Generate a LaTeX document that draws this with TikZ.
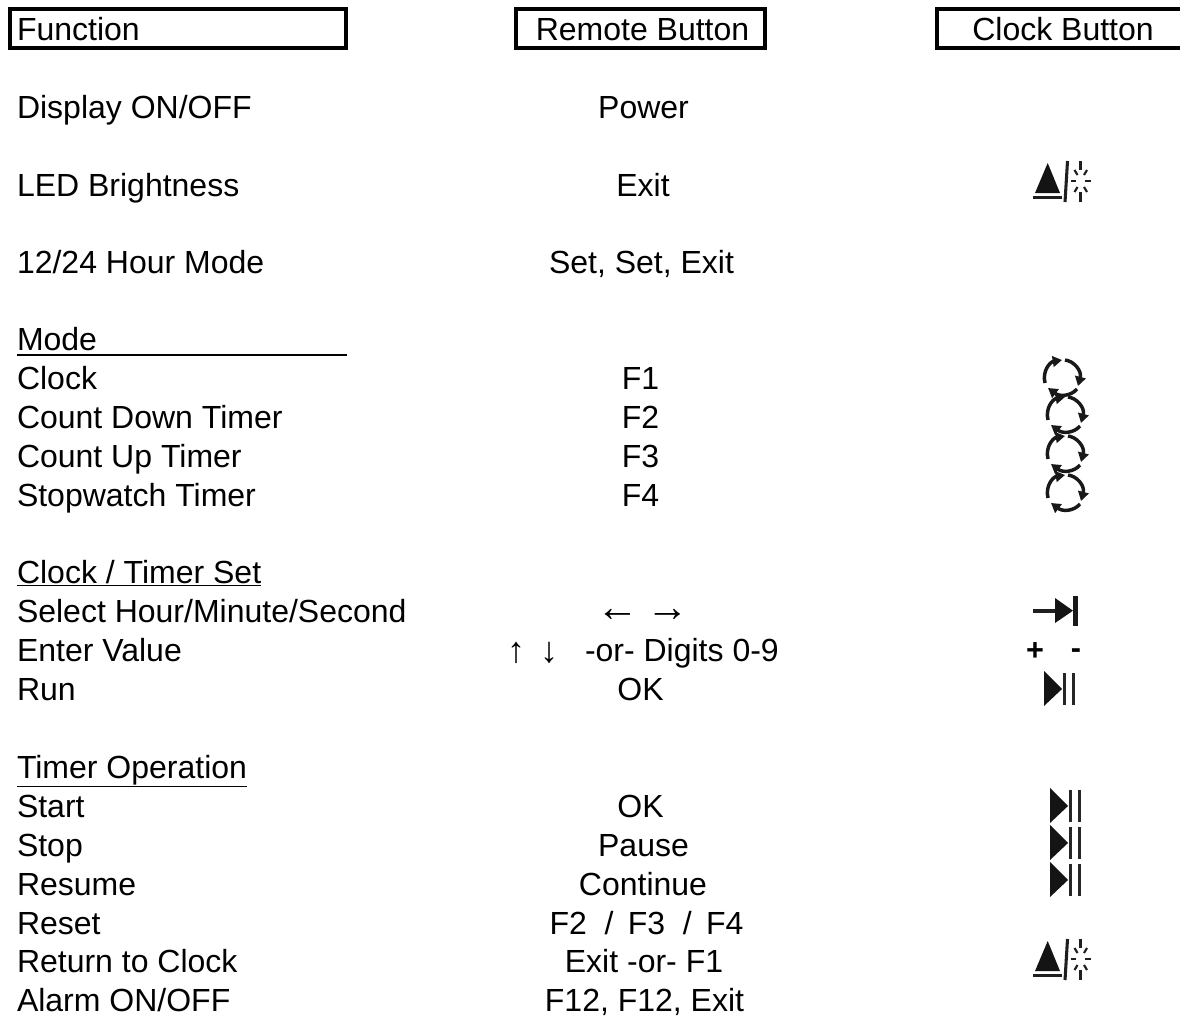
\documentclass[tikz,border=0pt]{standalone}
\usepackage{fontspec}
\setmainfont{Liberation Sans}
\usetikzlibrary{arrows.meta}
\tikzset{
  x=0.75pt,y=-0.75pt,
  txt/.style={inner sep=0pt,outer sep=0pt,font=\fontsize{24pt}{27pt}\selectfont,text=black},
  lab/.style={txt,anchor=base west},
  ctr/.style={txt,anchor=base},
  arrowh/.style={inner sep=0pt,outer sep=0pt,anchor=center,font=\fontsize{32pt}{34pt}\selectfont,text=black},
  arrowv/.style={inner sep=0pt,outer sep=0pt,anchor=center,font=\fontsize{27pt}{30pt}\selectfont,text=black},
  frameln/.style={line width=2.3pt,black,line cap=rect},
  ray/.style={line width=1.6pt,black!88},
  cyc/.style={line width=2.6pt,black!90,-{Triangle[length=7pt,width=8pt]}},
  barln/.style={line width=2.2pt,black!85},
  sym/.style={inner sep=0pt,outer sep=0pt,font=\fontsize{23pt}{25pt}\selectfont\bfseries,anchor=center}
}
\newcommand{\briteicon}[1]{%
  \begin{scope}[shift={(0,#1)}]
    \fill[black!92] (1047.7,-22) -- (1060,8) -- (1035,8) -- cycle;
    \draw[line width=2.3pt,black!88] (1033,12.5) -- (1062,12.5);
    \draw[line width=2.3pt,black!88] (1067.5,-24) -- (1065,17);
    \draw[ray] (1080.5,-24) -- (1080.5,-15);
    \draw[ray] (1080.5,7) -- (1080.5,17);
    \draw[ray] (1071,-4) -- (1076,-4);
    \draw[ray] (1085,-4) -- (1091,-4);
    \draw[ray] (1074.5,-15) -- (1077.5,-10);
    \draw[ray] (1087,-15) -- (1084,-10);
    \draw[ray] (1074.5,7) -- (1077.5,2);
    \draw[ray] (1087,7) -- (1084,2);
  \end{scope}}
\newcommand{\cycleicon}[2]{%
  \begin{scope}[shift={(#1,#2)}]
    \draw[cyc] (-17,6) .. controls (-20,-6) and (-12,-15) .. (0,-17);
    \draw[cyc] (3,-17) .. controls (12,-16) and (20,-6) .. (16,9);
    \draw[cyc] (15,12) .. controls (9,19) and (-2,20) .. (-14,11);
  \end{scope}}
\newcommand{\playicon}[2]{%
  \begin{scope}[shift={(#1,#2)}]
    \fill[black!92] (0,-18) -- (18,0) -- (0,17) -- cycle;
    \draw[barln] (20.5,-16) -- (20.5,16);
    \draw[barln] (29.5,-16) -- (29.5,16);
  \end{scope}}
\begin{document}
\begin{tikzpicture}
\useasboundingbox (0,0) rectangle (1180,1017);
\fill[white] (0,0) rectangle (1180,1017);
% header boxes
\draw[frameln] (10,9) rectangle (346,48);
\draw[frameln] (516,9) rectangle (765,48);
\draw[frameln] (1183,9) -- (937,9) -- (937,48) -- (1183,48);
\node[lab] (fn) at (17,40) {Function};
\node[ctr] (rb) at (642.5,40) {Remote Button};
\node[ctr] (cb) at (1063,40) {Clock Button};
% function column
\node[lab] (f1) at (17,118) {Display ON/OFF};
\node[lab] (f2) at (17,196) {LED Brightness};
\node[lab] (f3) at (17,273) {12/24 Hour Mode};
\node[lab] (f4) at (17,350) {Mode};
\draw[line width=1.8pt,black] (17,355) -- (347,355);
\node[lab] (f5) at (17,389) {Clock};
\node[lab] (f6) at (17,428) {Count Down Timer};
\node[lab] (f7) at (17,467) {Count Up Timer};
\node[lab] (f8) at (17,506) {Stopwatch Timer};
\node[lab] (f9) at (17,583) {\underline{Clock / Timer Set}};
\node[lab] (f10) at (17,622) {Select Hour/Minute/Second};
\node[lab] (f11) at (17,661) {Enter Value};
\node[lab] (f12) at (17,700) {Run};
\node[lab] (f13) at (17,778) {\underline{Timer Operation}};
\node[lab] (f14) at (17,817) {Start};
\node[lab] (f15) at (17,856) {Stop};
\node[lab] (f16) at (17,895) {Resume};
\node[lab] (f17) at (17,934) {Reset};
\node[lab] (f18) at (17,972) {Return to Clock};
\node[lab] (f19) at (17,1011) {Alarm ON/OFF};
% remote column
\node[ctr] (r1) at (643.5,118) {Power};
\node[ctr] (r2) at (643,196) {Exit};
\node[ctr] (r3) at (641.5,273) {Set, Set, Exit};
\node[ctr] (r5) at (640.5,389) {F1};
\node[ctr] (r6) at (640.5,428) {F2};
\node[ctr] (r7) at (640.5,467) {F3};
\node[ctr] (r8) at (640.5,506) {F4};
\node[arrowh] (r10a) at (618,615) {←};
\node[arrowh] (r10b) at (668,615) {→};
\node[arrowv] (r11a) at (516,652.5) {↑};
\node[arrowv] (r11b) at (549,652.5) {↓};
\node[lab] (r11) at (585,661) {-or- Digits 0-9};
\node[ctr] (r12) at (640.5,700) {OK};
\node[ctr] (r14) at (640.5,817) {OK};
\node[ctr] (r15) at (643.5,856) {Pause};
\node[ctr] (r16) at (643,895) {Continue};
\node[ctr] (r17) at (646.5,934) {F2 \ /\ \,F3 \ /\ \,F4};
\node[ctr] (r18) at (644,972) {Exit -or- F1};
\node[ctr] (r19) at (644.5,1011) {F12, F12, Exit};
% clock button icons
\briteicon{185}
\briteicon{963}
\cycleicon{1062}{377}
\cycleicon{1065}{414}
\cycleicon{1065}{453}
\cycleicon{1065}{492}
% tab
\draw[line width=3pt,black!88] (1033,610.7) -- (1058,610.7);
\fill[black!92] (1055,598) -- (1073,610.7) -- (1055,623) -- cycle;
\draw[line width=3.4pt,black!90] (1075.5,596) -- (1075.5,626);
\node[sym] (plus) at (1035,651) {+};
\node[sym] (minus) at (1076,654) {-};
\playicon{1044}{689}
\playicon{1050}{806}
\playicon{1050}{843}
\playicon{1050}{880}
\end{tikzpicture}
\end{document}
